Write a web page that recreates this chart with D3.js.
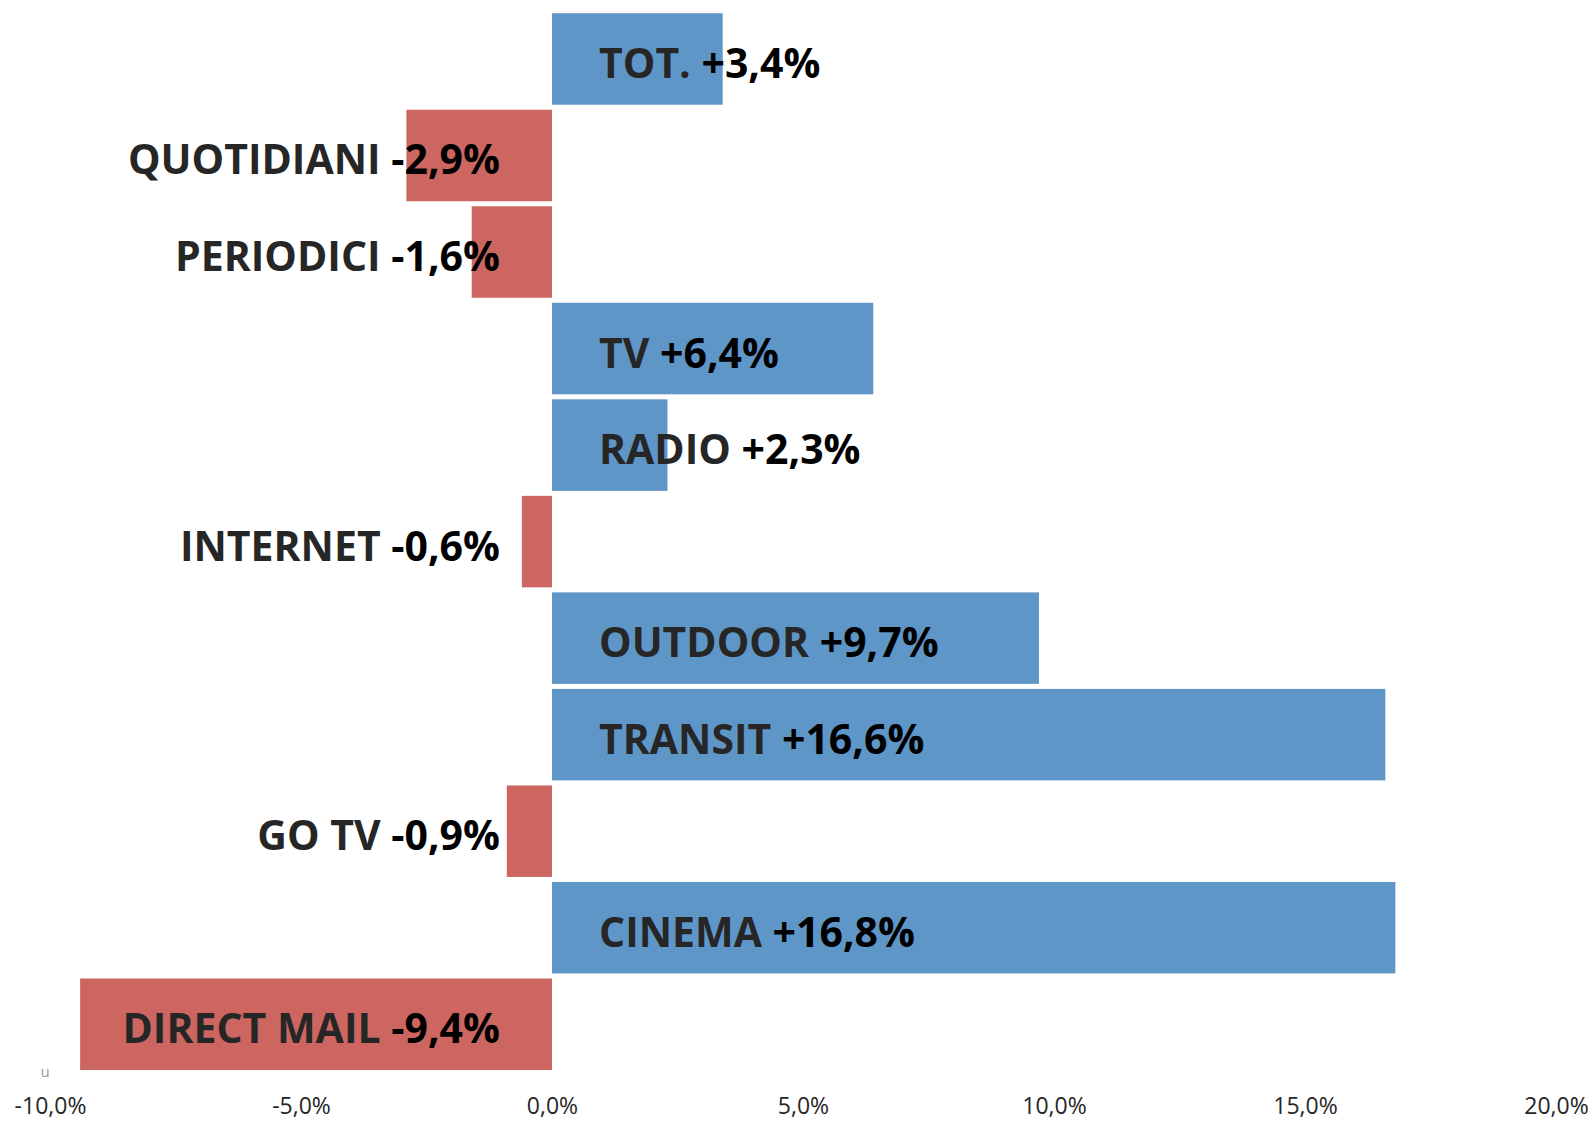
<!DOCTYPE html>
<html>
<head>
<meta charset="utf-8">
<script src="https://cdn.jsdelivr.net/npm/d3@7"></script>
<style>
  body { margin: 0; background: #fff; }
  svg { display: block; }
</style>
</head>
<body>
<script>
// Chart data
var categories = ["TOT.", "QUOTIDIANI", "PERIODICI", "TV", "RADIO", "INTERNET", "OUTDOOR", "TRANSIT", "GO TV", "CINEMA", "DIRECT MAIL"];
var values = [3.4, -2.9, -1.6, 6.4, 2.3, -0.6, 9.7, 16.6, -0.9, 16.8, -9.4];
var tickValues = [-10, -5, 0, 5, 10, 15, 20];

var width = 1594, height = 1122;

var svg = d3.select("body").append("svg")
    .attr("width", width)
    .attr("height", height);

// Scales
var x = d3.scaleLinear().domain([-10, 20]).range([50, 1556]);
var y = d3.scaleBand().domain(categories).range([10.7, 1072.5])
    .paddingInner(0.052).paddingOuter(0.026);

var fmt = function(v) { return v.toFixed(1).replace(".", ","); };

var data = categories.map(function(c, i) { return { name: c, value: values[i] }; });

// Bars
svg.selectAll(".bar")
    .data(data)
    .enter().append("rect")
    .attr("class", "bar")
    .attr("x", function(d) { return x(Math.min(0, d.value)); })
    .attr("y", function(d) { return y(d.name); })
    .attr("width", function(d) { return Math.abs(x(d.value) - x(0)); })
    .attr("height", y.bandwidth())
    .attr("fill", function(d) { return d.value < 0 ? "#cd6660" : "#5f96c8"; });

// Labels: name in dark grey, value in black
var labels = svg.selectAll(".lbl")
    .data(data)
    .enter().append("text")
    .attr("class", "lbl")
    .attr("x", function(d) { return d.value < 0 ? x(0) - 52 : x(0) + 47; })
    .attr("y", function(d) { return y(d.name) + y.bandwidth() / 2 + 19; })
    .attr("text-anchor", function(d) { return d.value < 0 ? "end" : "start"; })
    .style("font-family", "'Open Sans', sans-serif")
    .style("font-weight", "bold")
    .style("font-size", "41px");

labels.append("tspan")
    .attr("fill", "#262626")
    .text(function(d) { return d.name + " "; });
labels.append("tspan")
    .attr("fill", "#000")
    .text(function(d) { return (d.value > 0 ? "+" : "") + fmt(d.value) + "%"; });

// X axis (labels only)
var xAxis = svg.append("g")
    .attr("transform", "translate(0,1114)")
    .call(d3.axisBottom(x).tickValues(tickValues).tickSize(0).tickPadding(0)
        .tickFormat(function(d) { return fmt(d) + "%"; }));
xAxis.select(".domain").remove();
xAxis.selectAll("text")
    .attr("y", 0)
    .attr("dy", 0)
    .attr("fill", "#262626")
    .style("font-family", "'Open Sans', sans-serif")
    .style("font-size", "23px");

// stray glyph near the bottom-left corner
svg.append("text")
    .attr("x", 45)
    .attr("y", 1077)
    .attr("text-anchor", "middle")
    .attr("fill", "#999")
    .style("font-family", "'Open Sans', sans-serif")
    .style("font-size", "15px")
    .text("u");
</script>
</body>
</html>
